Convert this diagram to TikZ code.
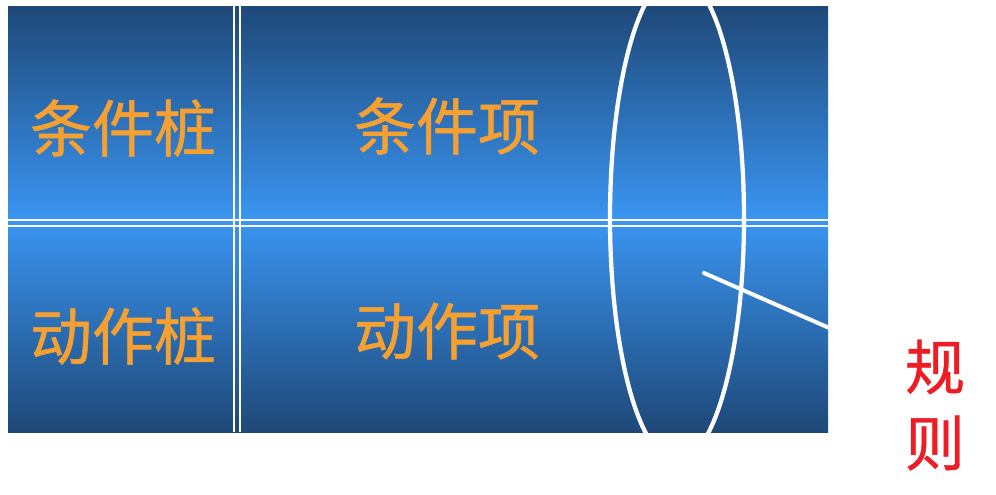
\documentclass[tikz,border=0pt]{standalone}
\usepackage{fontspec}
\usetikzlibrary{shapes.geometric}
\newfontfamily\cjk[FakeBold=0.8]{Noto Sans CJK SC}
\definecolor{bdark}{HTML}{1E4878}
\definecolor{blight}{HTML}{3A95F2}
\definecolor{txtorange}{HTML}{F5A030}
\definecolor{rulered}{HTML}{EE1C24}
\tikzset{
  celltext/.style={font=\cjk\fontsize{46.5}{50}\selectfont, text=txtorange, inner sep=0pt},
  redtext/.style={font=\cjk\fontsize{45}{50}\selectfont, text=rulered, inner sep=0pt},
  whiteline/.style={draw=white, line width=3pt},
  thinwhite/.style={draw=white, line width=2pt},
}
\begin{document}
\begin{tikzpicture}[x=0.75pt,y=-0.75pt]
\useasboundingbox (0,0) rectangle (996,494);
\fill[white] (0,0) rectangle (996,494);
% blue table background
\shade[top color=bdark, bottom color=bdark, middle color=blight] (8,6) rectangle (828,432);
% double dividers
\draw[thinwhite] (234,6) -- (234,432);
\draw[thinwhite] (240,6) -- (240,432);
\draw[thinwhite] (8,220) -- (828,220);
\draw[thinwhite] (8,226) -- (828,226);
% texts
\node[celltext] (cz) at (123,128) {条件桩};
\node[celltext] (cx) at (447,126) {条件项};
\node[celltext] (az) at (123,336) {动作桩};
\node[celltext] (ax) at (447,331) {动作项};
% ellipse and pointer, clipped to table
\begin{scope}
\clip (8,6) rectangle (828,432);
\node[draw=white, line width=3.2pt, ellipse, minimum width=100.5pt, minimum height=364.5pt, inner sep=0pt] (rule) at (677,218) {};
\coordinate (ps) at (704,273);
\coordinate (pe) at (900,359);
\draw[whiteline, line cap=round] (ps) -- (pe);
\end{scope}
% red label
\node[redtext] (gz) at (935,367) {规};
\node[redtext] (zz) at (935,443) {则};
\end{tikzpicture}
\end{document}
